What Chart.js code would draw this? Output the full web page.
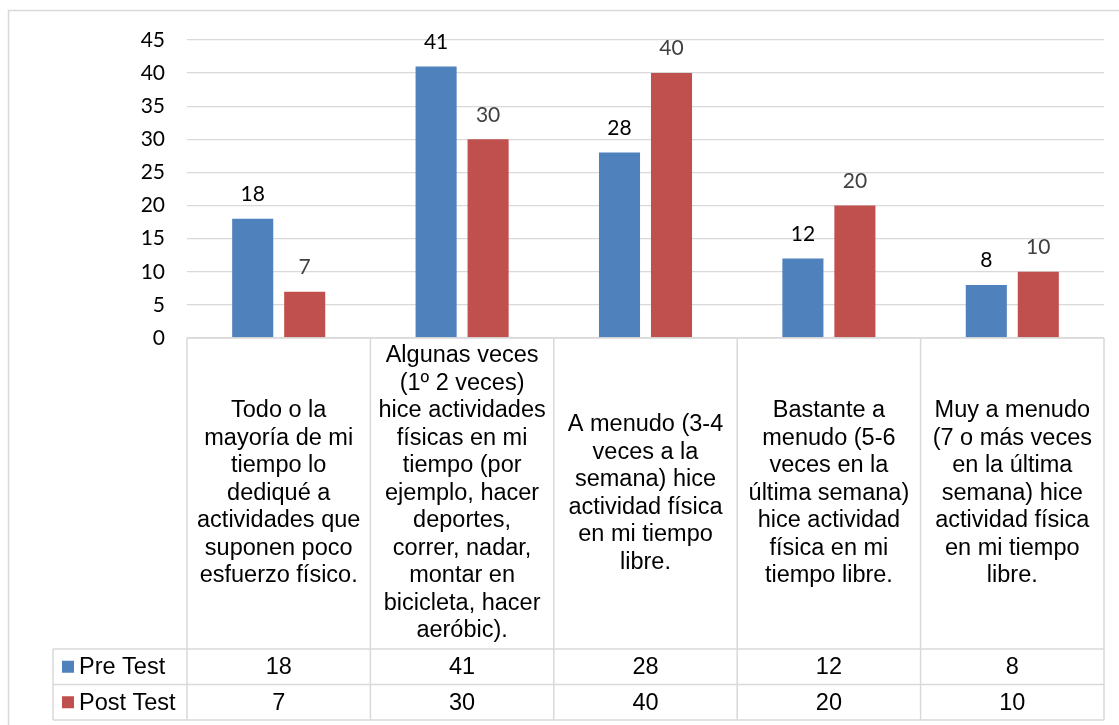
<!DOCTYPE html>
<html>
<head>
<meta charset="utf-8">
<script src="https://cdn.jsdelivr.net/npm/chart.js@4.4.1/dist/chart.umd.min.js"></script>
<style>
  html, body { margin: 0; padding: 0; background: #ffffff; }
  #wrap { position: relative; width: 1119px; height: 725px; overflow: hidden; }
  canvas { display: block; }
</style>
</head>
<body>
<div id="wrap"><canvas id="chart" width="1119" height="725"></canvas></div>
<script>
// Response categories (one entry per column, split into the lines shown in the table)
const categories = [
  ["Todo o la", "mayoría de mi", "tiempo lo", "dediqué a", "actividades que", "suponen poco", "esfuerzo físico."],
  ["Algunas veces", "(1º 2 veces)", "hice actividades", "físicas en mi", "tiempo (por", "ejemplo, hacer", "deportes,", "correr, nadar,", "montar en", "bicicleta, hacer", "aeróbic)."],
  ["A menudo (3-4", "veces a la", "semana) hice", "actividad física", "en mi tiempo", "libre."],
  ["Bastante a", "menudo (5-6", "veces en la", "última semana)", "hice actividad", "física en mi", "tiempo libre."],
  ["Muy a menudo", "(7 o más veces", "en la última", "semana) hice", "actividad física", "en mi tiempo", "libre."]
];
const seriesNames = ["Pre Test", "Post Test"];
const preTest = [18, 41, 28, 12, 8];
const postTest = [7, 30, 40, 20, 10];
const yAxisMin = 0;
const yAxisMax = 45;
const yAxisStep = 5;

const seriesColors = ["#4F81BD", "#C0504D"];
const labelColors = ["#000000", "#404040"];
const lineColor = "#D9D9D9";
const tickFont = "Lato, 'Open Sans', sans-serif";
const tableFont = "'Liberation Sans', Arial, sans-serif";

// Layout of the data table under the plot
const table = {
  labelRowBottom: 649,
  rowHeight: 35.5,
  legendLeft: 53,
  lineHeight: 27.5,
  fontSize: 23.5
};

const dataTablePlugin = {
  id: 'dataTable',
  beforeDraw(chart) {
    const ctx = chart.ctx;
    ctx.save();
    ctx.fillStyle = '#ffffff';
    ctx.fillRect(0, 0, chart.width, chart.height);
    // outer chart frame
    ctx.strokeStyle = lineColor;
    ctx.lineWidth = 1.5;
    ctx.strokeRect(8.5, 10.5, chart.width + 20, chart.height + 20);
    ctx.restore();
  },
  afterDatasetsDraw(chart) {
    const ctx = chart.ctx;
    ctx.save();
    ctx.font = `21px ${tickFont}`;
    ctx.textAlign = 'center';
    ctx.textBaseline = 'middle';
    chart.data.datasets.forEach((ds, di) => {
      const meta = chart.getDatasetMeta(di);
      meta.data.forEach((bar, i) => {
        ctx.fillStyle = labelColors[di];
        ctx.fillText(String(ds.data[i]), bar.x, bar.y - 24.5);
      });
    });
    ctx.restore();
  },
  afterDraw(chart) {
    const ctx = chart.ctx;
    const area = chart.chartArea;
    const xs = chart.scales.x;
    const n = chart.data.labels.length;
    const top = area.bottom;
    const r1 = table.labelRowBottom;
    const r2 = r1 + table.rowHeight;
    const r3 = r2 + table.rowHeight;

    // column edges from the category scale
    const edges = [area.left];
    for (let i = 0; i < n - 1; i++) {
      edges.push((xs.getPixelForValue(i) + xs.getPixelForValue(i + 1)) / 2);
    }
    edges.push(area.right);

    ctx.save();
    ctx.strokeStyle = lineColor;
    ctx.lineWidth = 1.5;
    ctx.beginPath();
    ctx.moveTo(area.left, top); ctx.lineTo(area.right, top);
    [r1, r2, r3].forEach(y => { ctx.moveTo(table.legendLeft, y); ctx.lineTo(area.right, y); });
    edges.forEach(x => { ctx.moveTo(x, top); ctx.lineTo(x, r3); });
    ctx.moveTo(table.legendLeft, r1); ctx.lineTo(table.legendLeft, r3);
    ctx.stroke();

    ctx.fillStyle = '#000000';
    ctx.font = `${table.fontSize}px ${tableFont}`;
    ctx.textAlign = 'center';
    ctx.textBaseline = 'middle';

    // category labels, centred in each cell
    const midY = (top + r1) / 2;
    chart.data.labels.forEach((lines, i) => {
      const cx = (edges[i] + edges[i + 1]) / 2;
      lines.forEach((line, k) => {
        const y = midY + (k - (lines.length - 1) / 2) * table.lineHeight;
        ctx.fillText(line, cx, y);
      });
    });

    // value rows with legend keys
    const rowTops = [r1, r2];
    chart.data.datasets.forEach((ds, di) => {
      const cy = rowTops[di] + table.rowHeight / 2;
      ctx.fillStyle = ds.backgroundColor;
      ctx.fillRect(62, cy - 6, 12, 12);
      ctx.fillStyle = '#000000';
      ctx.textAlign = 'left';
      ctx.fillText(ds.label, 79, cy + 1);
      ctx.textAlign = 'center';
      ds.data.forEach((v, i) => {
        ctx.fillText(String(v), (edges[i] + edges[i + 1]) / 2, cy + 1);
      });
    });
    ctx.restore();
  }
};

new Chart(document.getElementById('chart'), {
  type: 'bar',
  data: {
    labels: categories,
    datasets: [
      { label: seriesNames[0], data: preTest, backgroundColor: seriesColors[0] },
      { label: seriesNames[1], data: postTest, backgroundColor: seriesColors[1] }
    ]
  },
  options: {
    responsive: false,
    devicePixelRatio: 1,
    animation: false,
    categoryPercentage: 0.567,
    barPercentage: 0.79,
    layout: { padding: { left: 0, top: 40, right: 15, bottom: 387 } },
    plugins: {
      legend: { display: false },
      tooltip: { enabled: false },
      title: { display: false }
    },
    scales: {
      x: { display: false },
      y: {
        min: yAxisMin,
        max: yAxisMax,
        ticks: {
          stepSize: yAxisStep,
          padding: 22,
          color: '#000000',
          font: { family: tickFont, size: 21 }
        },
        grid: { color: lineColor, lineWidth: 1.3, drawTicks: false },
        border: { display: false },
        afterFit(scale) { scale.width = 187; }
      }
    }
  },
  plugins: [dataTablePlugin]
});
</script>
</body>
</html>
